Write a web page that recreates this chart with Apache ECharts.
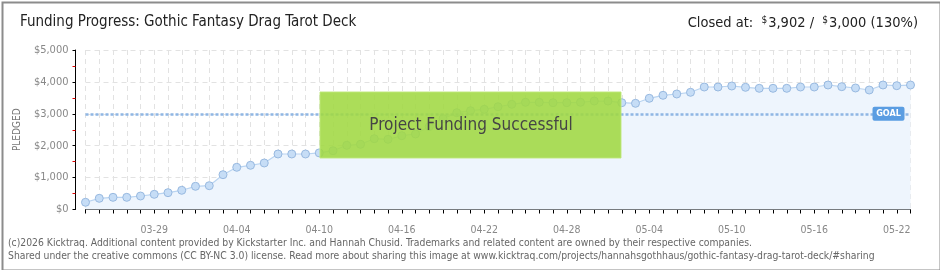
<!DOCTYPE html>
<html>
<head>
<meta charset="utf-8">
<script src="https://cdn.jsdelivr.net/npm/echarts@6/dist/echarts.min.js"></script>
<style>
html,body{margin:0;padding:0;background:#fff;}
#c{width:940px;height:270px;}
</style>
</head>
<body>
<div id="c"></div>
<script>
const dates = ['03-24','03-25','03-26','03-27','03-28','03-29','03-30','03-31','04-01','04-02','04-03','04-04','04-05','04-06','04-07','04-08','04-09','04-10','04-11','04-12','04-13','04-14','04-15','04-16','04-17','04-18','04-19','04-20','04-21','04-22','04-23','04-24','04-25','04-26','04-27','04-28','04-29','04-30','05-01','05-02','05-03','05-04','05-05','05-06','05-07','05-08','05-09','05-10','05-11','05-12','05-13','05-14','05-15','05-16','05-17','05-18','05-19','05-20','05-21','05-22','05-23'];
const pledged = [226,351,382,382,423,476,527,602,727,746,1091,1323,1386,1458,1740,1740,1740,1775,1843,2013,2044,2219,2200,2313,2367,2600,2850,3034,3097,3141,3222,3298,3361,3361,3348,3348,3361,3401,3400,3348,3329,3486,3580,3621,3674,3840,3840,3871,3830,3799,3799,3799,3840,3840,3903,3850,3809,3746,3903,3881,3902];
const goal = 3000;
const yTicks = [0,1000,2000,3000,4000,5000];
const labelEvery = 6, labelStart = 5;

const FONT = '"DejaVu Sans Condensed","Liberation Sans Narrow","DejaVu Sans",sans-serif';
const chart = echarts.init(document.getElementById('c'), null, {renderer:'canvas'});

const option = {
  backgroundColor:'#fff',
  animation:false,
  textStyle:{fontFamily:FONT},
  title:[
    {text:'Funding Progress: Gothic Fantasy Drag Tarot Deck', left:20, top:15, padding:0,
     textStyle:{fontFamily:FONT, fontSize:15, fontWeight:'normal', color:'#222'}},
    {text:'Closed at:  {s|$}3,902 /  {s|$}3,000 (130%)', right:22, top:15, padding:0,
     textStyle:{fontFamily:FONT, fontSize:14.5, fontWeight:'normal', color:'#222',
       rich:{s:{fontFamily:FONT, fontSize:10, color:'#222', verticalAlign:'top', padding:[0,1,6,0]}}}}
  ],
  grid:{left:85.5, right:29.5, top:50, bottom:60.5, containLabel:false},
  xAxis:{
    type:'category', data:dates, boundaryGap:false, offset:11,
    axisLine:{show:true, lineStyle:{color:'#000', width:1}},
    axisTick:{show:true, interval:0, length:4, lineStyle:{color:'#000'}},
    axisLabel:{interval:function(i){return i % labelEvery === labelStart;}, color:'#888', fontSize:10.5, fontFamily:FONT, margin:4},
    splitLine:{show:true, interval:0, lineStyle:{color:'#e2e2e2', type:[5,4], width:1}}
  },
  yAxis:{
    type:'value', min:yTicks[0], max:yTicks[yTicks.length-1], interval:1000, offset:10,
    name:'PLEDGED', nameLocation:'middle', nameGap:53, nameRotate:90,
    nameTextStyle:{color:'#777', fontSize:10, fontFamily:FONT},
    axisLine:{show:true, lineStyle:{color:'#000', width:1}},
    axisTick:{show:true, length:3, lineStyle:{color:'#000'}},
    minorTick:{show:true, splitNumber:2, length:3, lineStyle:{color:'#e00000'}},
    axisLabel:{color:'#888', fontSize:11, fontFamily:FONT, margin:7,
      formatter:function(v){return '$' + v.toLocaleString('en-US');}},
    splitLine:{show:true, lineStyle:{color:'#e2e2e2', type:[5,4], width:1}}
  },
  series:[{
    type:'line', data:pledged, symbol:'circle', symbolSize:8, showSymbol:true,
    lineStyle:{color:'#b9d4f1', width:1.2},
    itemStyle:{color:'#c6ddf6', borderColor:'#98b9e0', borderWidth:1},
    areaStyle:{color:'#eef5fd', opacity:1},
    z:2,
    markLine:{
      silent:true, symbol:'none', label:{show:false},
      lineStyle:{color:'#8fb6e4', width:2.5, type:[3,2]},
      data:[{yAxis:goal}], z:3
    }
  }]
};
chart.setOption(option);

const goalY = chart.convertToPixel({yAxisIndex:0}, goal);
const lastX = chart.convertToPixel({xAxisIndex:0}, dates[dates.length-1]);

chart.setOption({
  graphic:[
    {type:'rect', left:0, top:0, shape:{x:1, y:1, width:938, height:268},
     style:{fill:'none', stroke:'#8c8c8c', lineWidth:2}, z:100, silent:true},
    {type:'rect', shape:{x:320, y:92, width:301, height:66},
     style:{fill:'rgba(160,216,66,0.88)', stroke:'rgba(190,232,120,0.9)', lineWidth:1}, z:50},
    {type:'text', x:471, y:126, z:51,
     style:{text:'Project Funding Successful', fontFamily:FONT, fontSize:17, fill:'#454545',
       align:'center', verticalAlign:'middle', textShadowColor:'#fff', textShadowOffsetX:1, textShadowOffsetY:1, textShadowBlur:0}},
    {type:'rect', shape:{x:lastX-38, y:goalY-7, width:32, height:14, r:2},
     style:{fill:'#5a9de2'}, z:60},
    {type:'text', x:lastX-22, y:goalY, z:61,
     style:{text:'GOAL', fontFamily:FONT, fontSize:9, fontWeight:'bold', fill:'#fff', align:'center', verticalAlign:'middle'}},
    {type:'text', x:8, y:243, z:60,
     style:{text:'(c)2026 Kicktraq. Additional content provided by Kickstarter Inc. and Hannah Chusid. Trademarks and related content are owned by their respective companies.',
       fontFamily:FONT, fontSize:10.3, fill:'#666', verticalAlign:'middle'}},
    {type:'text', x:8, y:256, z:60,
     style:{text:'Shared under the creative commons (CC BY-NC 3.0) license. Read more about sharing this image at www.kicktraq.com/projects/hannahsgothhaus/gothic-fantasy-drag-tarot-deck/#sharing',
       fontFamily:FONT, fontSize:10.3, fill:'#666', verticalAlign:'middle'}}
  ]
});
</script>
</body>
</html>
